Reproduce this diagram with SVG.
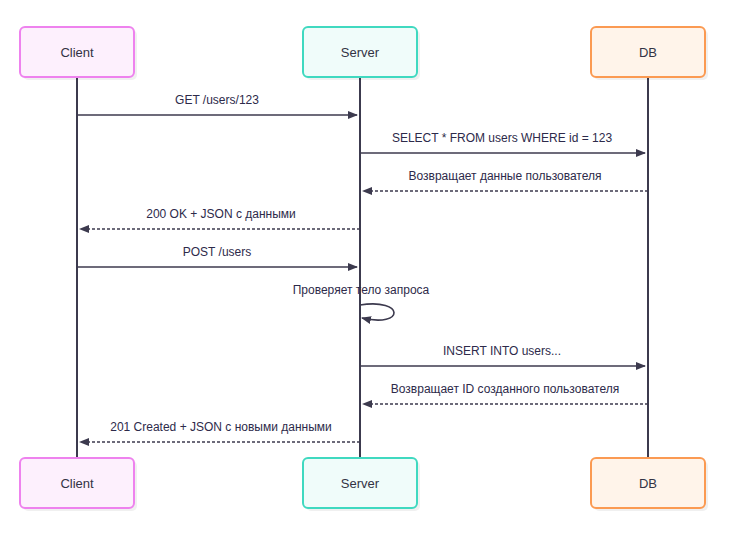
<svg xmlns="http://www.w3.org/2000/svg" width="735" height="536" viewBox="0 0 735 536">
<defs>
<style>
.lbl{font-family:"Liberation Sans","DejaVu Sans",sans-serif;font-size:12px;fill:#2d2a4a;text-anchor:middle}
.name{font-family:"Liberation Sans","DejaVu Sans",sans-serif;font-size:13px;fill:#333344;text-anchor:middle}
.life{stroke:#3c3a4e;stroke-width:2;fill:none}
.msg{stroke:#3c3a4e;stroke-width:1.6;fill:none}
.dash{stroke-dasharray:3,2}
.client{fill:#fdf0fd;stroke:#ee82ee;stroke-width:2}
.server{fill:#f0fcfa;stroke:#40d9c0;stroke-width:2}
.db{fill:#fff4ea;stroke:#fb9a52;stroke-width:2}
.shadow{fill:#000;opacity:0.06}
</style>
<marker id="ah" viewBox="0 0 10 10" refX="9" refY="5" markerWidth="10" markerHeight="10" markerUnits="userSpaceOnUse" orient="auto">
<path d="M0,1 L10,5 L0,9 z" fill="#3c3a4e"/>
</marker>
</defs>
<rect width="735" height="536" fill="#ffffff"/>
<g id="lifelines">
<line class="life" x1="77" y1="77" x2="77" y2="458"/>
<line class="life" x1="360" y1="77" x2="360" y2="458"/>
<line class="life" x1="648" y1="77" x2="648" y2="458"/>
</g>
<g id="client-top"><rect class="shadow" x="23" y="30" width="114" height="50" rx="5"/><rect class="client" x="20" y="27" width="114" height="50" rx="5"/><text class="name" x="77" y="57">Client</text></g>
<g id="server-top"><rect class="shadow" x="306" y="30" width="114" height="50" rx="5"/><rect class="server" x="303" y="27" width="114" height="50" rx="5"/><text class="name" x="360" y="57">Server</text></g>
<g id="db-top"><rect class="shadow" x="594" y="30" width="114" height="50" rx="5"/><rect class="db" x="591" y="27" width="114" height="50" rx="5"/><text class="name" x="648" y="57">DB</text></g>
<g id="client-bottom"><rect class="shadow" x="23" y="461" width="114" height="50" rx="5"/><rect class="client" x="20" y="458" width="114" height="50" rx="5"/><text class="name" x="77" y="488">Client</text></g>
<g id="server-bottom"><rect class="shadow" x="306" y="461" width="114" height="50" rx="5"/><rect class="server" x="303" y="458" width="114" height="50" rx="5"/><text class="name" x="360" y="488">Server</text></g>
<g id="db-bottom"><rect class="shadow" x="594" y="461" width="114" height="50" rx="5"/><rect class="db" x="591" y="458" width="114" height="50" rx="5"/><text class="name" x="648" y="488">DB</text></g>
<g id="connectors">
<line class="msg" x1="77" y1="115" x2="357" y2="115" marker-end="url(#ah)"/>
<text class="lbl" x="217" y="104">GET /users/123</text>
<line class="msg" x1="360" y1="153" x2="645" y2="153" marker-end="url(#ah)"/>
<text class="lbl" x="502" y="142">SELECT * FROM users WHERE id = 123</text>
<line class="msg dash" x1="648" y1="191" x2="363" y2="191" marker-end="url(#ah)"/>
<text class="lbl" x="505" y="180">Возвращает данные пользователя</text>
<line class="msg dash" x1="360" y1="229" x2="80" y2="229" marker-end="url(#ah)"/>
<text class="lbl" x="221" y="218">200 OK + JSON с данными</text>
<line class="msg" x1="77" y1="267" x2="357" y2="267" marker-end="url(#ah)"/>
<text class="lbl" x="217" y="256">POST /users</text>
<path class="msg" d="M360,305 C405,298 405,328 362,318" marker-end="url(#ah)"/>
<text class="lbl" x="361" y="294">Проверяет тело запроса</text>
<line class="msg" x1="360" y1="366" x2="645" y2="366" marker-end="url(#ah)"/>
<text class="lbl" x="502" y="355">INSERT INTO users...</text>
<line class="msg dash" x1="648" y1="404" x2="363" y2="404" marker-end="url(#ah)"/>
<text class="lbl" x="505" y="393">Возвращает ID созданного пользователя</text>
<line class="msg dash" x1="360" y1="442" x2="80" y2="442" marker-end="url(#ah)"/>
<text class="lbl" x="221" y="431">201 Created + JSON с новыми данными</text>
</g>
</svg>
